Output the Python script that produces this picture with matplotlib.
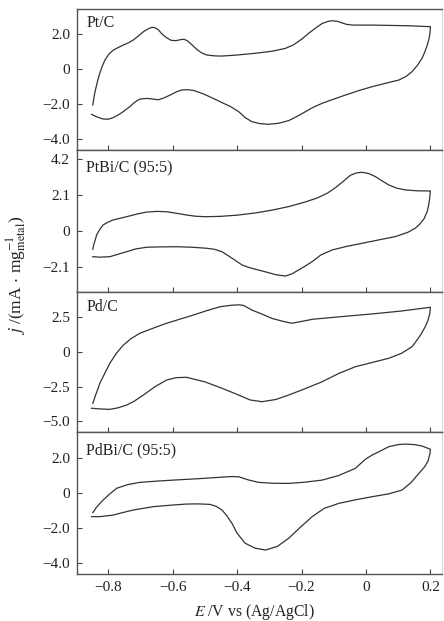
import matplotlib
matplotlib.use("Agg")
import matplotlib.pyplot as plt

plt.rcParams['font.family'] = ['Liberation Serif', 'DejaVu Serif']
plt.rcParams['mathtext.fontset'] = 'stix'

# Pt/C: anodic sweep then cathodic sweep (E in V, j in mA/mg)
pt_E = [-0.848, -0.845, -0.841, -0.836, -0.829, -0.820, -0.810, -0.798, -0.785, -0.770,
        -0.753, -0.737, -0.722, -0.707, -0.691, -0.678, -0.665, -0.655, -0.645, -0.633,
        -0.620, -0.605, -0.590, -0.575, -0.565, -0.555, -0.540, -0.525, -0.510, -0.494,
        -0.470, -0.447, -0.400, -0.343, -0.290, -0.250, -0.225, -0.200, -0.178, -0.155,
        -0.136, -0.118, -0.105, -0.090, -0.075, -0.060, -0.040, 0.019, 0.080, 0.133, 0.200,
        0.199, 0.196, 0.190, 0.182, 0.174, 0.160, 0.143, 0.125, 0.102, 0.060,
        0.019, -0.020, -0.064, -0.100, -0.136, -0.165, -0.188, -0.215, -0.240, -0.270,
        -0.302, -0.330, -0.354, -0.375, -0.395, -0.420, -0.447, -0.474, -0.505, -0.536,
        -0.555, -0.572, -0.590, -0.608, -0.628, -0.645, -0.660, -0.680, -0.702, -0.718,
        -0.733, -0.752, -0.769, -0.785, -0.800, -0.815, -0.826, -0.840, -0.852]
pt_j = [-2.06, -1.70, -1.30, -0.90, -0.40, 0.10, 0.52, 0.85, 1.07, 1.22,
        1.37, 1.50, 1.66, 1.88, 2.13, 2.28, 2.38, 2.36, 2.25, 2.00,
        1.80, 1.64, 1.62, 1.68, 1.70, 1.62, 1.38, 1.12, 0.92, 0.80,
        0.75, 0.74, 0.80, 0.90, 1.02, 1.18, 1.38, 1.70, 2.04, 2.36,
        2.60, 2.72, 2.76, 2.73, 2.64, 2.55, 2.51, 2.51, 2.49, 2.47, 2.42,
        2.10, 1.75, 1.35, 0.95, 0.61, 0.22, -0.15, -0.42, -0.63, -0.82,
        -1.01, -1.22, -1.49, -1.72, -1.96, -2.20, -2.44, -2.72, -2.95, -3.10,
        -3.16, -3.12, -3.01, -2.78, -2.44, -2.15, -1.92, -1.68, -1.42, -1.22,
        -1.18, -1.20, -1.32, -1.49, -1.66, -1.76, -1.72, -1.68, -1.72, -1.90,
        -2.15, -2.42, -2.63, -2.78, -2.87, -2.86, -2.80, -2.70, -2.59]

# PtBi/C (95:5)
ptbi_E = [-0.848, -0.845, -0.840, -0.836, -0.826, -0.816, -0.800, -0.785, -0.765, -0.743,
          -0.712, -0.681, -0.650, -0.619, -0.588, -0.557, -0.530, -0.500, -0.453, -0.400,
          -0.343, -0.290, -0.240, -0.190, -0.150, -0.120, -0.095, -0.070, -0.048, -0.030,
          -0.012, 0.008, 0.029, 0.050, 0.071, 0.095, 0.123, 0.160, 0.200,
          0.198, 0.195, 0.190, 0.180, 0.166, 0.153, 0.130, 0.091, 0.040, -0.012,
          -0.060, -0.105, -0.140, -0.167, -0.200, -0.230, -0.250, -0.280, -0.323, -0.360,
          -0.385, -0.415, -0.447, -0.470, -0.494, -0.540, -0.588, -0.635, -0.681, -0.715,
          -0.743, -0.770, -0.795, -0.826, -0.848]
ptbi_j = [-1.07, -0.80, -0.50, -0.23, 0.10, 0.35, 0.52, 0.64, 0.73, 0.83,
          0.98, 1.10, 1.14, 1.12, 1.03, 0.93, 0.86, 0.83, 0.85, 0.92,
          1.05, 1.22, 1.42, 1.68, 1.93, 2.20, 2.52, 2.90, 3.25, 3.38,
          3.42, 3.35, 3.17, 2.92, 2.68, 2.50, 2.39, 2.34, 2.33,
          1.95, 1.55, 1.13, 0.70, 0.38, 0.16, -0.08, -0.33, -0.52, -0.72,
          -0.90, -1.11, -1.40, -1.79, -2.18, -2.50, -2.63, -2.55, -2.33, -2.15,
          -1.98, -1.60, -1.21, -1.07, -1.01, -0.95, -0.92, -0.93, -0.95, -1.05,
          -1.21, -1.36, -1.50, -1.53, -1.50]

# Pd/C
pd_E = [-0.848, -0.840, -0.832, -0.826, -0.810, -0.795, -0.775, -0.753, -0.730, -0.702,
        -0.660, -0.619, -0.578, -0.536, -0.495, -0.453, -0.420, -0.395, -0.380, -0.354,
        -0.320, -0.292, -0.260, -0.230, -0.200, -0.165, -0.136, -0.060, 0.019, 0.110, 0.200,
        0.198, 0.192, 0.184, 0.170, 0.155, 0.143, 0.110, 0.071, 0.020, -0.033,
        -0.085, -0.136, -0.190, -0.240, -0.280, -0.323, -0.360, -0.395, -0.447, -0.500,
        -0.557, -0.590, -0.619, -0.655, -0.691, -0.720, -0.743, -0.770, -0.795, -0.826, -0.852]
pd_j = [-3.70, -3.15, -2.65, -2.25, -1.50, -0.81, -0.10, 0.50, 0.95, 1.35,
        1.72, 2.07, 2.36, 2.66, 2.97, 3.26, 3.36, 3.40, 3.35, 3.02,
        2.70, 2.42, 2.22, 2.07, 2.20, 2.36, 2.42, 2.58, 2.74, 2.95, 3.22,
        2.75, 2.25, 1.82, 1.25, 0.75, 0.38, -0.10, -0.45, -0.75, -1.06,
        -1.55, -2.14, -2.65, -3.10, -3.42, -3.58, -3.45, -3.10, -2.61, -2.15,
        -1.82, -1.85, -2.02, -2.50, -3.10, -3.55, -3.82, -4.02, -4.13, -4.10, -4.05]

# PdBi/C (95:5)
pdbi_E = [-0.848, -0.835, -0.816, -0.795, -0.774, -0.740, -0.702, -0.650, -0.598, -0.520,
          -0.453, -0.420, -0.395, -0.365, -0.333, -0.290, -0.240, -0.190, -0.136, -0.085,
          -0.033, -0.002, 0.020, 0.040, 0.071, 0.100, 0.122, 0.150, 0.174, 0.200,
          0.198, 0.192, 0.180, 0.164, 0.140, 0.112, 0.070, 0.019, -0.030, -0.084,
          -0.130, -0.167, -0.205, -0.240, -0.275, -0.312, -0.345, -0.375, -0.400, -0.416,
          -0.432, -0.447, -0.465, -0.484, -0.520, -0.557, -0.610, -0.660, -0.722, -0.760,
          -0.784, -0.826, -0.852]
pdbi_j = [-1.12, -0.78, -0.40, -0.05, 0.27, 0.48, 0.61, 0.68, 0.74, 0.82,
          0.90, 0.94, 0.93, 0.75, 0.61, 0.56, 0.55, 0.62, 0.74, 1.00,
          1.41, 1.93, 2.18, 2.36, 2.65, 2.77, 2.80, 2.77, 2.69, 2.50,
          2.20, 1.80, 1.45, 1.12, 0.60, 0.17, -0.05, -0.21, -0.38, -0.59,
          -0.88, -1.35, -1.98, -2.59, -3.05, -3.26, -3.15, -2.87, -2.30, -1.73,
          -1.30, -0.97, -0.76, -0.65, -0.62, -0.63, -0.70, -0.78, -0.97, -1.14,
          -1.26, -1.35, -1.35]

names = ['Pt/C', 'PtBi/C (95:5)', 'Pd/C', 'PdBi/C (95:5)']
yticks = [[2.0, 0, -2.0, -4.0], [4.2, 2.1, 0, -2.1], [2.5, 0, -2.5, -5.0], [2.0, 0, -2.0, -4.0]]
ytick_labels = [['2.0', '0', '\u22122.0', '\u22124.0'],
                ['4.2', '2.1', '0', '\u22122.1'],
                ['2.5', '0', '\u22122.5', '\u22125.0'],
                ['2.0', '0', '\u22122.0', '\u22124.0']]
xticks = [-0.8, -0.6, -0.4, -0.2, 0, 0.2]
xtick_labels = ['\u22120.8', '\u22120.6', '\u22120.4', '\u22120.2', '0', '0.2']

curves = [(pt_E, pt_j), (ptbi_E, ptbi_j), (pd_E, pd_j), (pdbi_E, pdbi_j)]
ylims = [(-4.63, 3.43), (-3.56, 4.72), (-5.76, 4.32), (-4.63, 3.49)]
# panel boxes in pixels (top, bottom) of a 444x621 figure
boxes = [(9, 150), (150, 292), (292, 432), (432, 574)]
label_y = [0.90, 0.873, 0.893, 0.873]

W, H = 444, 621
fig = plt.figure(figsize=(W / 100, H / 100), dpi=100)
left, right = 77, 442

for i in range(4):
    top, bot = boxes[i]
    ax = fig.add_axes([left / W, 1 - bot / H, (right - left) / W, (bot - top) / H])
    E, j = curves[i]
    ax.plot(E, j, color='#333333', lw=0.9, solid_joinstyle='round')
    ax.set_xlim(-0.897, 0.236)
    ax.set_ylim(*ylims[i])
    ax.set_yticks(yticks[i])
    ax.set_yticklabels(ytick_labels[i])
    ax.set_xticks(xticks)
    if i == 3:
        ax.set_xticklabels(xtick_labels)
    else:
        ax.set_xticklabels([])
    ax.tick_params(direction='in', length=3.5, width=0.8, color='#444444',
                   labelsize=11, pad=5, labelcolor='#222222')
    for side, sp in ax.spines.items():
        sp.set_color('#555555')
        sp.set_linewidth(1.0)
    ax.spines['right'].set_color('#dddddd')
    ax.text(0.025, label_y[i], names[i], transform=ax.transAxes, fontsize=11.5,
            va='center', ha='left', color='#222222')

fig.text(254 / W, 1 - 612 / H, r'$E$ /V vs (Ag/AgCl)', ha='center', va='center',
         fontsize=11.3, color='#222222')
fig.text(17 / W, 1 - 275 / H, r'$j$ /(mA$\,\cdot\,$mg$^{-1}_{\mathrm{metal}}$)', ha='center',
         va='center', rotation=90, fontsize=12.5, color='#222222')

fig.savefig('out.png', dpi=100)
